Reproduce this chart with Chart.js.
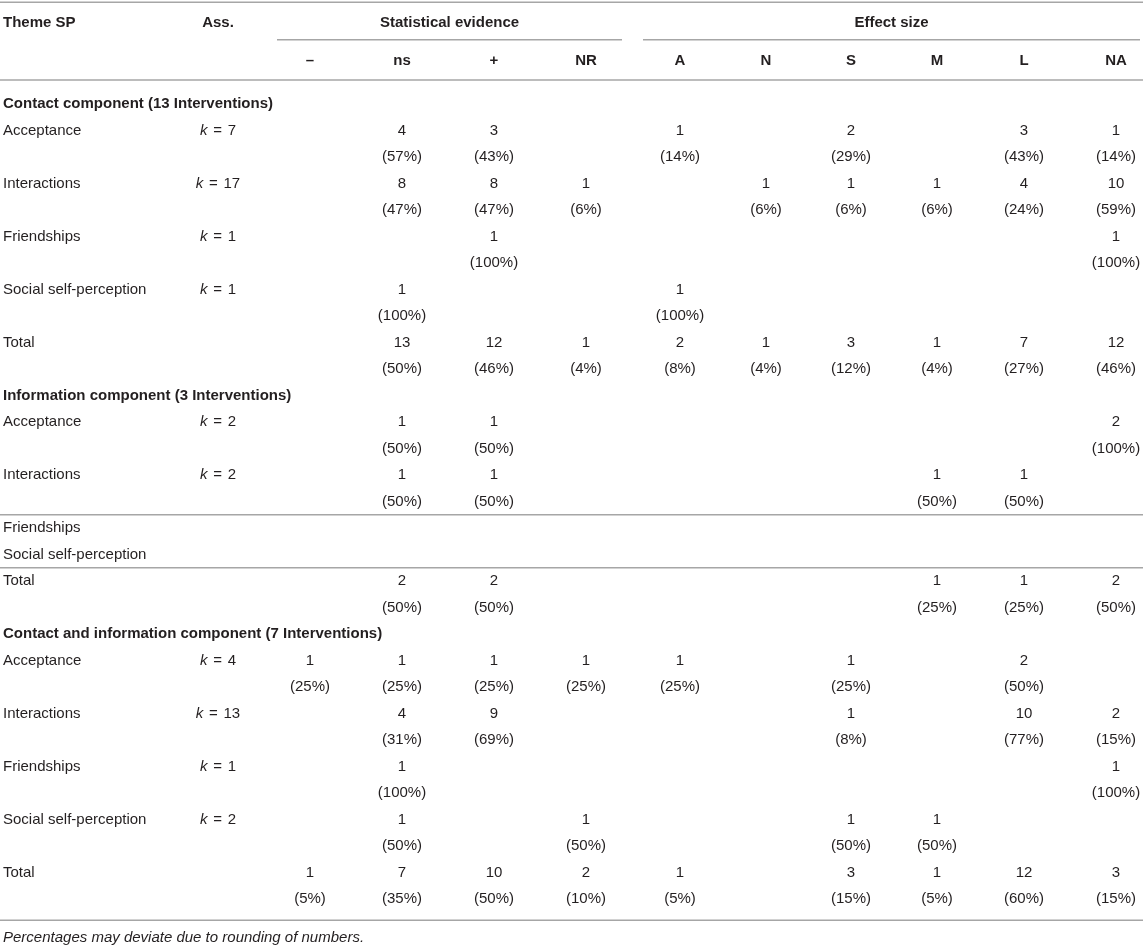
<!DOCTYPE html>
<html>
<head>
<meta charset="utf-8">
<script src="https://cdn.jsdelivr.net/npm/chart.js@4"></script>
<style>
html,body{margin:0;padding:0;background:#fff;}
#wrap{width:1143px;height:946px;position:relative;}
</style>
</head>
<body>
<div id="wrap"><canvas id="c"></canvas></div>
<script>
// ---------- data ----------
const columns = ['–', 'ns', '+', 'NR', 'A', 'N', 'S', 'M', 'L', 'NA'];
const groupHeaders = ['Statistical evidence', 'Effect size'];
const headTheme = 'Theme SP';
const headAss = 'Ass.';
const themes = ['Acceptance', 'Interactions', 'Friendships', 'Social self-perception', 'Total'];
const sectionTitles = [
  'Contact component (13 Interventions)',
  'Information component (3 Interventions)',
  'Contact and information component (7 Interventions)'
];
const footnote = 'Percentages may deviate due to rounding of numbers.';

const contactK = [7, 17, 1, 1, null];
const contactN = [
  [null, 4, 3, null, 1, null, 2, null, 3, 1],
  [null, 8, 8, 1, null, 1, 1, 1, 4, 10],
  [null, null, 1, null, null, null, null, null, null, 1],
  [null, 1, null, null, 1, null, null, null, null, null],
  [null, 13, 12, 1, 2, 1, 3, 1, 7, 12]
];
const contactPct = [
  [null, 57, 43, null, 14, null, 29, null, 43, 14],
  [null, 47, 47, 6, null, 6, 6, 6, 24, 59],
  [null, null, 100, null, null, null, null, null, null, 100],
  [null, 100, null, null, 100, null, null, null, null, null],
  [null, 50, 46, 4, 8, 4, 12, 4, 27, 46]
];

const infoK = [2, 2, null, null, null];
const infoN = [
  [null, 1, 1, null, null, null, null, null, null, 2],
  [null, 1, 1, null, null, null, null, 1, 1, null],
  null,
  null,
  [null, 2, 2, null, null, null, null, 1, 1, 2]
];
const infoPct = [
  [null, 50, 50, null, null, null, null, null, null, 100],
  [null, 50, 50, null, null, null, null, 50, 50, null],
  null,
  null,
  [null, 50, 50, null, null, null, null, 25, 25, 50]
];

const ciK = [4, 13, 1, 2, null];
const ciN = [
  [1, 1, 1, 1, 1, null, 1, null, 2, null],
  [null, 4, 9, null, null, null, 1, null, 10, 2],
  [null, 1, null, null, null, null, null, null, null, 1],
  [null, 1, null, 1, null, null, 1, 1, null, null],
  [1, 7, 10, 2, 1, null, 3, 1, 12, 3]
];
const ciPct = [
  [25, 25, 25, 25, 25, null, 25, null, 50, null],
  [null, 31, 69, null, null, null, 8, null, 77, 15],
  [null, 100, null, null, null, null, null, null, null, 100],
  [null, 50, null, 50, null, null, 50, 50, null, null],
  [5, 35, 50, 10, 5, null, 15, 5, 60, 15]
];

// ---------- layout (x in canvas-width units, y in row units) ----------
const W = 1143, H = 946;
const ROW_H = 26.5, FIRST_ROW_PX = 104;
const X_LABEL = 3, X_ASS = 218;
const colX = [310, 402, 494, 586, 680, 766, 851, 937, 1024, 1116];
const groupSpan = [[277, 622], [643, 1140]];
const Y_TOPLINE = -3.84, Y_HEAD1 = -3.06, Y_GROUPLINE = -2.42, Y_HEAD2 = -1.62, Y_HEADLINE = -0.91;

const FONT = '"Liberation Sans", Arial, Helvetica, sans-serif';
const TEXT_COLOR = '#231f20';
const LINE_COLOR = '#a6a6a6';

// ---------- build ----------
const texts = [];
const lines = [];
function addText(x, y, parts, align) { texts.push({ x, y, parts, align }); }
function plain(s, bold) { return [{ s, w: bold ? 'bold' : 'normal', st: 'normal', gap: 0 }]; }

addText(X_LABEL, Y_HEAD1, plain(headTheme, true), 'left');
addText(X_ASS, Y_HEAD1, plain(headAss, true), 'center');
groupHeaders.forEach((g, i) => {
  addText((groupSpan[i][0] + groupSpan[i][1]) / 2, Y_HEAD1, plain(g, true), 'center');
  lines.push({ x1: groupSpan[i][0], x2: groupSpan[i][1], y: Y_GROUPLINE });
});
columns.forEach((c, j) => addText(colX[j], Y_HEAD2, plain(c, true), 'center'));
lines.push({ x1: 0, x2: W, y: Y_TOPLINE });
lines.push({ x1: 0, x2: W, y: Y_HEADLINE });

const sections = [
  { title: sectionTitles[0], k: contactK, n: contactN, p: contactPct, sep: [] },
  { title: sectionTitles[1], k: infoK, n: infoN, p: infoPct, sep: [2, 4] },
  { title: sectionTitles[2], k: ciK, n: ciN, p: ciPct, sep: [] }
];
let r = 0;
sections.forEach(sec => {
  addText(X_LABEL, r, plain(sec.title, true), 'left');
  r += 1;
  themes.forEach((t, i) => {
    if (sec.sep.includes(i)) lines.push({ x1: 0, x2: W, y: r - 0.5 });
    addText(X_LABEL, r, plain(t, false), 'left');
    if (sec.k[i] != null) {
      addText(X_ASS, r, [
        { s: 'k', w: 'normal', st: 'italic', gap: 1.5 },
        { s: ' =', w: 'normal', st: 'normal', gap: 1.5 },
        { s: ' ' + sec.k[i], w: 'normal', st: 'normal', gap: 0 }
      ], 'center');
    }
    const nRow = sec.n[i], pRow = sec.p[i];
    if (nRow) {
      nRow.forEach((v, j) => { if (v != null) addText(colX[j], r, plain(String(v), false), 'center'); });
      pRow.forEach((v, j) => { if (v != null) addText(colX[j], r + 1, plain('(' + v + '%)', false), 'center'); });
      r += 2;
    } else {
      r += 1;
    }
  });
});
lines.push({ x1: 0, x2: W, y: r - 0.2 });
addText(X_LABEL, r + 0.47, [{ s: footnote, w: 'normal', st: 'italic', gap: 0 }], 'left');

// ---------- chart ----------
const datasets = lines.map(l => ({
  type: 'scatter', showLine: true, data: [{ x: l.x1, y: l.y }, { x: l.x2, y: l.y }],
  borderColor: LINE_COLOR, borderWidth: 1.5, pointRadius: 0, pointHoverRadius: 0, fill: false
}));
datasets.push({
  type: 'scatter', isText: true, showLine: false, pointRadius: 0, pointHoverRadius: 0,
  data: texts.map(t => ({ x: t.x, y: t.y, parts: t.parts, align: t.align }))
});

const textPlugin = {
  id: 'cellText',
  beforeDraw(chart) {
    const c = chart.ctx; c.save(); c.fillStyle = '#fff'; c.fillRect(0, 0, chart.width, chart.height); c.restore();
  },
  afterDatasetsDraw(chart) {
    const ctx = chart.ctx;
    chart.data.datasets.forEach((ds, di) => {
      if (!ds.isText) return;
      const meta = chart.getDatasetMeta(di);
      meta.data.forEach((el, i) => {
        const d = ds.data[i];
        ctx.save();
        ctx.fillStyle = TEXT_COLOR;
        ctx.textBaseline = 'middle';
        ctx.textAlign = 'left';
        let total = 0;
        const widths = d.parts.map(p => {
          ctx.font = p.st + ' ' + p.w + ' 15px ' + FONT;
          const w = ctx.measureText(p.s).width + p.gap; total += w; return w;
        });
        let x = d.align === 'center' ? el.x - total / 2 : el.x;
        d.parts.forEach((p, k) => {
          ctx.font = p.st + ' ' + p.w + ' 15px ' + FONT;
          ctx.fillText(p.s, x, el.y);
          x += widths[k];
        });
        ctx.restore();
      });
    });
  }
};

new Chart(document.getElementById('c'), {
  type: 'scatter',
  data: { datasets },
  options: {
    responsive: true, maintainAspectRatio: false, animation: false,
    layout: { padding: 0 },
    events: [],
    plugins: { legend: { display: false }, tooltip: { enabled: false } },
    scales: {
      x: { type: 'linear', display: false, min: 0, max: W },
      y: { type: 'linear', display: false, reverse: true,
           min: -FIRST_ROW_PX / ROW_H, max: (H - FIRST_ROW_PX) / ROW_H }
    }
  },
  plugins: [textPlugin]
});
</script>
</body>
</html>
